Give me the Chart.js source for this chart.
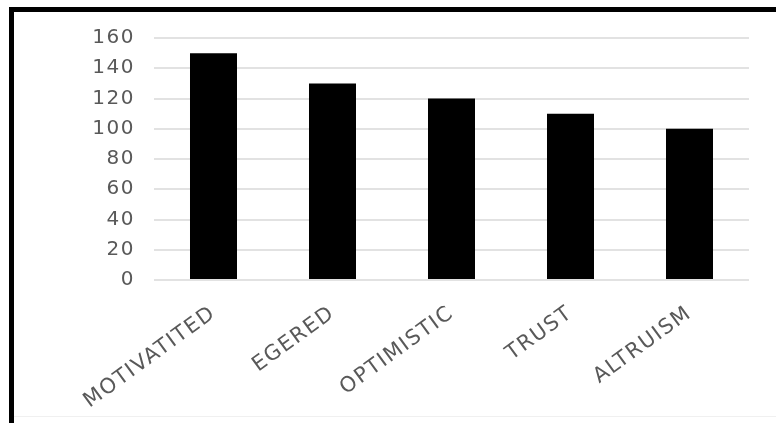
<!DOCTYPE html>
<html>
<head>
<meta charset="utf-8">
<script src="https://cdn.jsdelivr.net/npm/chart.js@4.4.1/dist/chart.umd.min.js"></script>
<style>
  html, body { margin: 0; padding: 0; background: #fff; }
  #wrap { position: relative; width: 776px; height: 423px; overflow: hidden; }
  #c { position: absolute; left: 0; top: 0; }
  #frame { position: absolute; left: 9px; top: 7px; right: 0; bottom: -10px;
           border-top: 5px solid #000; border-left: 5px solid #000; pointer-events: none; }
  #bottomline { position: absolute; left: 14px; right: 0; top: 416px; height: 1px; background: #f0f0f0; }
</style>
</head>
<body>
<div id="wrap">
  <canvas id="c" width="776" height="423"></canvas>
  <div id="bottomline"></div>
  <div id="frame"></div>
</div>
<script>
const categories = ['MOTIVATITED', 'EGERED', 'OPTIMISTIC', 'TRUST', 'ALTRUISM'];
const values = [150, 130, 120, 110, 100];
const yTicks = [0, 20, 40, 60, 80, 100, 120, 140, 160];

const spacing = {
  id: 'spacing',
  beforeDraw(chart) { chart.ctx.letterSpacing = '1.5px'; },
  afterDraw(chart) { chart.ctx.letterSpacing = '0px'; }
};

new Chart(document.getElementById('c'), {
  type: 'bar',
  data: {
    labels: categories,
    datasets: [{
      data: values,
      backgroundColor: '#000000',
      borderWidth: 0,
      barPercentage: 0.395,
      categoryPercentage: 1.0
    }]
  },
  options: {
    responsive: false,
    animation: false,
    devicePixelRatio: 1,
    layout: { padding: { left: 0, right: 27, top: 38, bottom: 0 } },
    plugins: { legend: { display: false }, tooltip: { enabled: false }, title: { display: false } },
    scales: {
      x: {
        grid: { display: false, drawTicks: false },
        border: { display: false },
        ticks: {
          color: '#595959',
          font: { family: 'DejaVu Sans', size: 21 },
          minRotation: 36, maxRotation: 36,
          padding: 21,
          autoSkip: false
        },
        afterFit(scale) { scale.height = 143; }
      },
      y: {
        min: 0, max: 160,
        afterBuildTicks(scale) { scale.ticks = yTicks.map(v => ({ value: v })); },
        grid: { color: '#e2e2e2', lineWidth: 2, drawTicks: false },
        border: { display: false },
        ticks: {
          color: '#595959',
          font: { family: 'DejaVu Sans', size: 20 },
          padding: 19
        },
        afterFit(scale) { scale.width = 154; }
      }
    }
  },
  plugins: [spacing]
});
</script>
</body>
</html>
